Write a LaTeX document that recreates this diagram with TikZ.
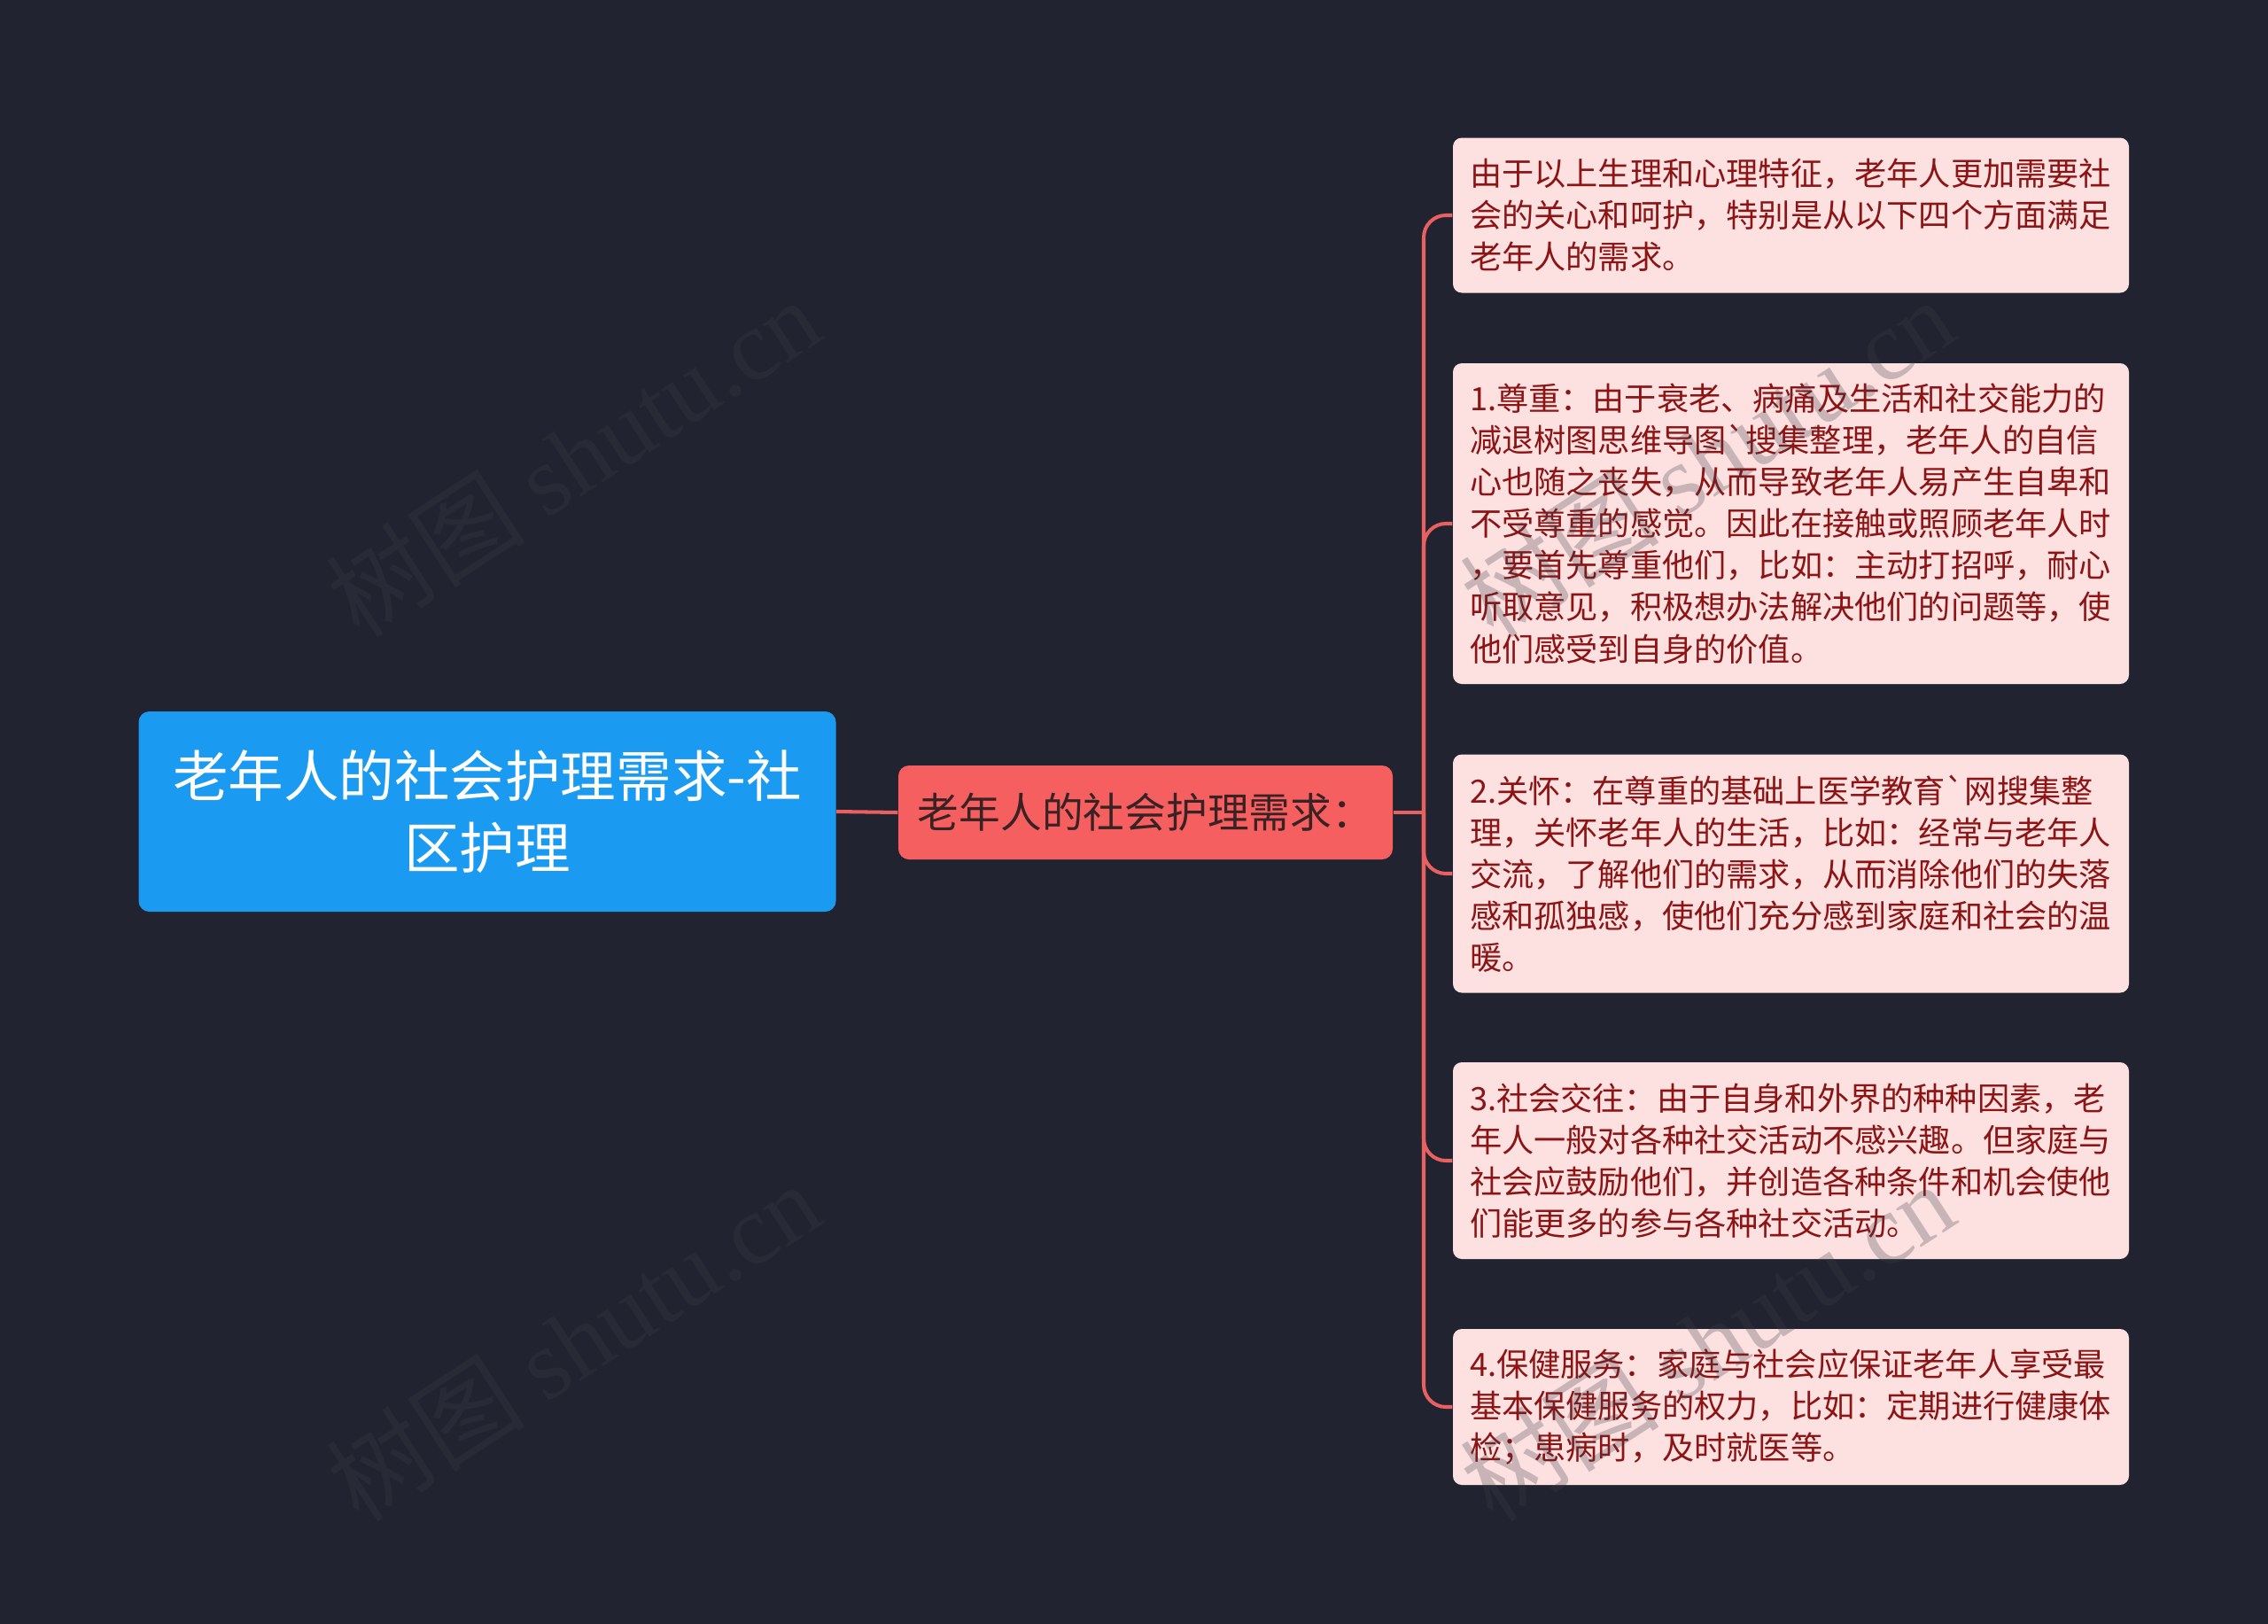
\documentclass[tikz,border=0pt]{standalone}
\usepackage{fontspec}
\setmainfont{Noto Sans CJK SC}[Ligatures=TeXOff]
\newfontfamily\markfont{Liberation Serif}

\definecolor{bgdark}{HTML}{212430}
\definecolor{rootblue}{HTML}{1A9AF0}
\definecolor{subred}{HTML}{F65F5F}
\definecolor{subtext}{HTML}{3A2224}
\definecolor{leafpink}{HTML}{FDE1E1}
\definecolor{leafred}{HTML}{8C1414}
\definecolor{linkred}{HTML}{E8605F}
\definecolor{markgray}{HTML}{3B3C46}

\begin{document}
\begin{tikzpicture}[
    every node/.style={font=\fontsize{10.3}{13.4}\selectfont},
    rootbox/.style={
        fill=rootblue,
        rounded corners=0.12cm,
        minimum width=7.87cm,
        minimum height=2.26cm,
        align=center,
        text=white,
        font=\fontsize{17.8}{23.2}\selectfont
    },
    subbox/.style={
        fill=subred,
        rounded corners=0.12cm,
        minimum width=5.58cm,
        minimum height=1.06cm,
        text=subtext,
        font=\fontsize{13.3}{16}\selectfont
    },
    leafbox/.style={
        fill=leafpink,
        rounded corners=0.1cm,
        text=leafred,
        text width=7.25cm,
        inner xsep=0.19cm,
        align=left
    },
    link/.style={draw=linkred, line width=1.15pt},
    wmark/.style={text=markgray, text opacity=0.27, rotate=33,
        font=\fontsize{32}{32}\selectfont}
]

% Canvas
\fill[bgdark] (0,0) rectangle (25.6,-18.33);
\useasboundingbox (0,0) rectangle (25.6,-18.33);

% Root and main branch
\node[rootbox] (root) at (5.50,-9.16) {老年人的社会护理需求-社\\区护理};
\node[subbox] (needs) at (12.93,-9.17) {老年人的社会护理需求：};

% Leaves
\node[leafbox, minimum height=1.75cm] (intro) at (20.215,-2.43)
    {由于以上生理和心理特征，老年人更加需要社\\会的关心和呵护，特别是从以下四个方面满足\\老年人的需求。};
\node[leafbox, minimum height=3.62cm] (respect) at (20.215,-5.91)
    {1.尊重：由于衰老、病痛及生活和社交能力的\\减退树图思维导图`搜集整理，老年人的自信\\心也随之丧失，从而导致老年人易产生自卑和\\不受尊重的感觉。因此在接触或照顾老年人时\\，要首先尊重他们，比如：主动打招呼，耐心\\听取意见，积极想办法解决他们的问题等，使\\他们感受到自身的价值。};
\node[leafbox, minimum height=2.69cm] (care) at (20.215,-9.86)
    {2.关怀：在尊重的基础上医学教育`网搜集整\\理，关怀老年人的生活，比如：经常与老年人\\交流，了解他们的需求，从而消除他们的失落\\感和孤独感，使他们充分感到家庭和社会的温\\暖。};
\node[leafbox, minimum height=2.22cm] (social) at (20.215,-13.10)
    {3.社会交往：由于自身和外界的种种因素，老\\年人一般对各种社交活动不感兴趣。但家庭与\\社会应鼓励他们，并创造各种条件和机会使他\\们能更多的参与各种社交活动。};
\node[leafbox, minimum height=1.76cm] (health) at (20.215,-15.88)
    {4.保健服务：家庭与社会应保证老年人享受最\\基本保健服务的权力，比如：定期进行健康体\\检；患病时，及时就医等。};

% Connectors
\coordinate (trunk) at (16.07,-9.17);
\draw[link] (root.east) -- (needs.west);
\draw[link] (needs.east) -- (trunk);
\foreach \leaf in {intro,respect,care,social,health}
    \draw[link, rounded corners=0.25cm] (trunk) |- (\leaf.west);

% Watermarks
\node[wmark] (wm1) at (6.47,-5.16) {树图 {\markfont shutu.cn}};
\node[wmark] (wm2) at (19.27,-5.16) {树图 {\markfont shutu.cn}};
\node[wmark] (wm3) at (6.47,-15.14) {树图 {\markfont shutu.cn}};
\node[wmark] (wm4) at (19.27,-15.14) {树图 {\markfont shutu.cn}};

\end{tikzpicture}
\end{document}
